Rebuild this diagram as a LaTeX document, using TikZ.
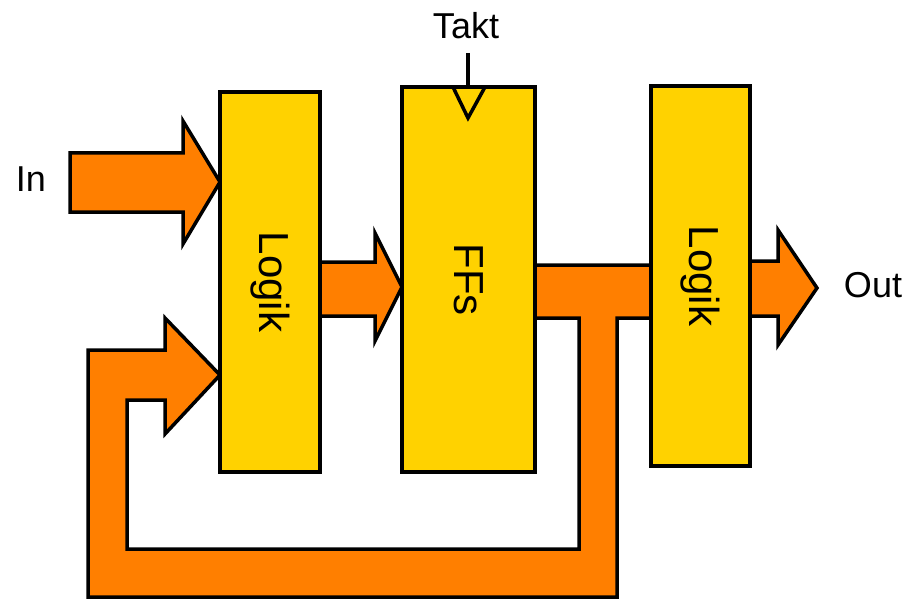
\documentclass[tikz,border=0pt]{standalone}
\usepackage{fontspec}
\setmainfont{Liberation Sans}
\definecolor{blockgelb}{HTML}{FFD200}
\definecolor{pfeilorange}{HTML}{FF7F00}

\begin{document}
\begin{tikzpicture}[x=1pt,y=-1pt,line width=3.5pt,
		block/.style={draw,fill=blockgelb,inner sep=0pt,rotate=-90,font=\fontsize{42}{48}\selectfont},
		pfeil/.style={draw,fill=pfeilorange,line join=miter},
		beschr/.style={font=\fontsize{36}{42}\selectfont,inner sep=0pt}]
			\clip (0,0) rectangle (908,599);
			% стрелки
			\draw[pfeil] (70,153) -- (183,153) -- (183,121) -- (220,182) -- (183,244) -- (183,212) -- (70,212) -- cycle;
			\draw[pfeil] (320,262) -- (375,262) -- (375,233) -- (402,287) -- (375,341) -- (375,316) -- (320,316) -- cycle;
			\draw[pfeil] (750,261) -- (778,261) -- (778,230) -- (817,288) -- (778,345) -- (778,316) -- (750,316) -- cycle;
			% обратная связь
			\draw[pfeil] (535,265) -- (651,265) -- (651,318) -- (617,318) -- (617,597) -- (88,597) -- (88,350)
				-- (165,350) -- (165,318) -- (220,375) -- (165,434) -- (165,400) -- (127,400) -- (127,549)
				-- (579,549) -- (579,318) -- (535,318) -- cycle;
			% блоки
			\node[block,minimum width=380pt,minimum height=100pt] (logikA) at (270,282) {Logik};
			\node[block,minimum width=385pt,minimum height=133pt] (ffs) at (468.5,279.5) {FFs};
			\node[block,minimum width=380pt,minimum height=99pt] (logikB) at (700.5,276) {Logik};
			% такт
			\node[beschr,anchor=base] (takt) at (466,39) {Takt};
			\coordinate (clk) at (468,53);
			\draw (clk) -- (clk |- ffs.west);
			\draw (453,87) -- (468,118) -- (485,87);
			% подписи
			\node[beschr,anchor=base] (in) at (31,192) {In};
			\node[beschr,anchor=base] (out) at (873,297) {Out};
		\end{tikzpicture}
\end{document}
